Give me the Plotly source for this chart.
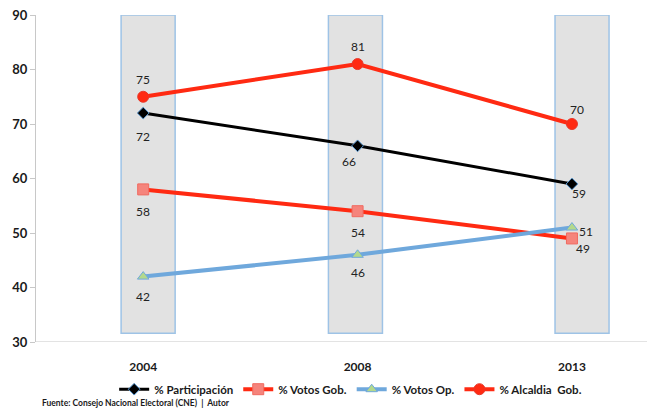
import plotly.graph_objects as go

years = ["2004", "2008", "2013"]
participacion = [72, 66, 59]
votos_gob = [58, 54, 49]
votos_op = [42, 46, 51]
alcaldia_gob = [75, 81, 70]
y_ticks = [30, 40, 50, 60, 70, 80, 90]
footer = "Fuente: Consejo Nacional Electoral (CNE)  |  Autor"

# label offsets in pixels (dx, dy downward) - styling only
label_offsets = {
    "part": [(0, 23), (-9, 16), (7, 10)],
    "gob": [(0, 22), (0, 21), (11, 10)],
    "op": [(0, 20), (0, 18), (14, 4)],
    "alc": [(0, -17), (0, -18), (5, -15)],
}

xi = [0, 1, 2]
FONT = "Lato, 'Open Sans', sans-serif"
lab_font = dict(family=FONT, size=12, color="#222222")

fig = go.Figure()

series = [
    ("part", "% Participación", participacion,
     dict(color="#000000", width=3),
     dict(symbol="diamond", size=9, color="#000000", line=dict(color="#5b9bd5", width=1))),
    ("gob", "% Votos Gob.", votos_gob,
     dict(color="#ff2a12", width=4),
     dict(symbol="square", size=11, color="#f5847c", line=dict(color="#f06a60", width=1))),
    ("op", "% Votos Op.", votos_op,
     dict(color="#6fa8dc", width=4),
     dict(symbol="triangle-up", size=10, color="#b3d98c", line=dict(color="#6fa8dc", width=1))),
    ("alc", "% Alcaldia  Gob.", alcaldia_gob,
     dict(color="#ff2a12", width=4),
     dict(symbol="circle", size=11, color="#ff2a12", line=dict(color="#e8382a", width=1))),
]

for key, name, vals, line, marker in series:
    fig.add_trace(go.Scatter(x=xi, y=vals, name=name, mode="lines+markers",
                             line=line, marker=marker))
    for i, v in enumerate(vals):
        dx, dy = label_offsets[key][i]
        fig.add_annotation(x=xi[i], y=v, xref="x", yref="y", text=str(v), showarrow=False,
                           xanchor="center", yanchor="middle", xshift=dx, yshift=-dy,
                           font=lab_font)

# gray highlight columns behind each year
box_offsets = [0.023, -0.01, 0.047]
for i, off in enumerate(box_offsets):
    fig.add_shape(type="rect", xref="x", yref="y", layer="below",
                  x0=i + off - 0.126, x1=i + off + 0.126, y0=31.6, y1=90,
                  fillcolor="#e2e2e2", line=dict(color="#9ec3e6", width=1.5))

fig.add_annotation(text=f"<b>{footer}</b>", xref="paper", yref="paper",
                   x=0.0065, y=-0.187, xanchor="left", yanchor="middle", showarrow=False,
                   font=dict(family=FONT, size=8.5, color="#1a1a1a"))

fig.update_layout(
    width=647, height=411,
    margin=dict(l=36, r=0, t=15, b=69),
    paper_bgcolor="white", plot_bgcolor="white",
    font=dict(family=FONT, color="#222222"),
    showlegend=True,
    legend=dict(orientation="h", x=0.515, xanchor="center", y=-0.1, yanchor="top",
                bgcolor="rgba(0,0,0,0)",
                font=dict(family=FONT, size=11.5, color="#1a1a1a", weight="bold"),
                itemwidth=30, tracegroupgap=0),
    xaxis=dict(range=[-0.5, 2.35], tickmode="array", tickvals=xi,
               ticktext=[f"<b>{y}</b>" for y in years],
               showgrid=False, zeroline=False, showline=False, ticks="",
               ticklabelstandoff=16,
               tickfont=dict(family=FONT, size=12, color="#1a1a1a")),
    yaxis=dict(range=[30, 90], tickvals=y_ticks, ticktext=[f"<b>{v}</b>" for v in y_ticks],
               showgrid=False, zeroline=False, showline=True, linecolor="#c8c8c8", linewidth=1,
               ticks="outside", ticklen=5, tickcolor="#c8c8c8",
               tickfont=dict(family=FONT, size=13, color="#1a1a1a")),
)
# bottom axis line at y=30
fig.add_shape(type="line", xref="paper", yref="y", x0=0, x1=1, y0=30, y1=30,
              line=dict(color="#c8c8c8", width=1.2))

fig.write_html("out.html")
